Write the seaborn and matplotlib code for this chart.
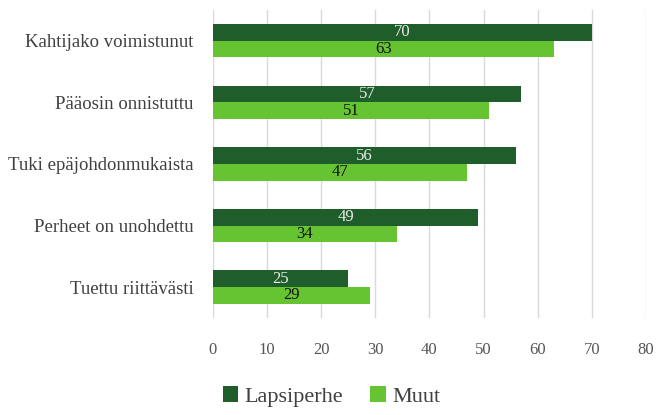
import matplotlib
matplotlib.use("Agg")
import matplotlib.pyplot as plt
import seaborn as sns
import pandas as pd

categories = ["Kahtijako voimistunut", "Pääosin onnistuttu", "Tuki epäjohdonmukaista",
              "Perheet on unohdettu", "Tuettu riittävästi"]
lapsiperhe = [70, 57, 56, 49, 25]
muut = [63, 51, 47, 34, 29]
series_names = ["Lapsiperhe", "Muut"]
x_ticks = [0, 10, 20, 30, 40, 50, 60, 70, 80]

df = pd.DataFrame({
    "cat": categories * 2,
    "val": lapsiperhe + muut,
    "series": [series_names[0]] * len(categories) + [series_names[1]] * len(categories),
})

sns.set_theme(style="white")
plt.rcParams["font.family"] = ["Liberation Serif", "DejaVu Serif"]

colors = ["#1f5e2b", "#66c332"]
fig = plt.figure(figsize=(6.67, 4.15), dpi=100)
ax = fig.add_axes([0.319, 0.234, 0.6495, 0.742])

sns.barplot(data=df, y="cat", x="val", hue="series", order=categories,
            hue_order=series_names, palette=colors, orient="h", width=0.54,
            ax=ax, saturation=1, legend=True, linewidth=0)

for cont, col in zip(ax.containers, ["#eaeaea", "#111111"]):
    ax.bar_label(cont, labels=[f"{v:g}" for v in cont.datavalues],
                 label_type="center", color=col, fontsize=12)

ax.set_xlim(0, 80)
ax.set_xticks(x_ticks)
ax.set_ylim(4.5, -0.5)
ax.xaxis.grid(True, color="#d9d9d9", linewidth=1)
ax.set_axisbelow(True)
for s in ax.spines.values():
    s.set_visible(False)
ax.set_xlabel("")
ax.set_ylabel("")
ax.tick_params(axis="x", length=0, pad=17, labelsize=12, labelcolor="#555555")
ax.tick_params(axis="y", length=0, pad=14, labelsize=13.5, labelcolor="#404040")

leg = ax.legend(loc="center", bbox_to_anchor=(0.497, 0.045), bbox_transform=fig.transFigure,
                ncol=2, frameon=False, fontsize=16, handlelength=0.7, handleheight=0.7,
                handletextpad=0.3, columnspacing=1.2)
for t in leg.get_texts():
    t.set_color("#404040")

fig.savefig("out.png", dpi=100)
